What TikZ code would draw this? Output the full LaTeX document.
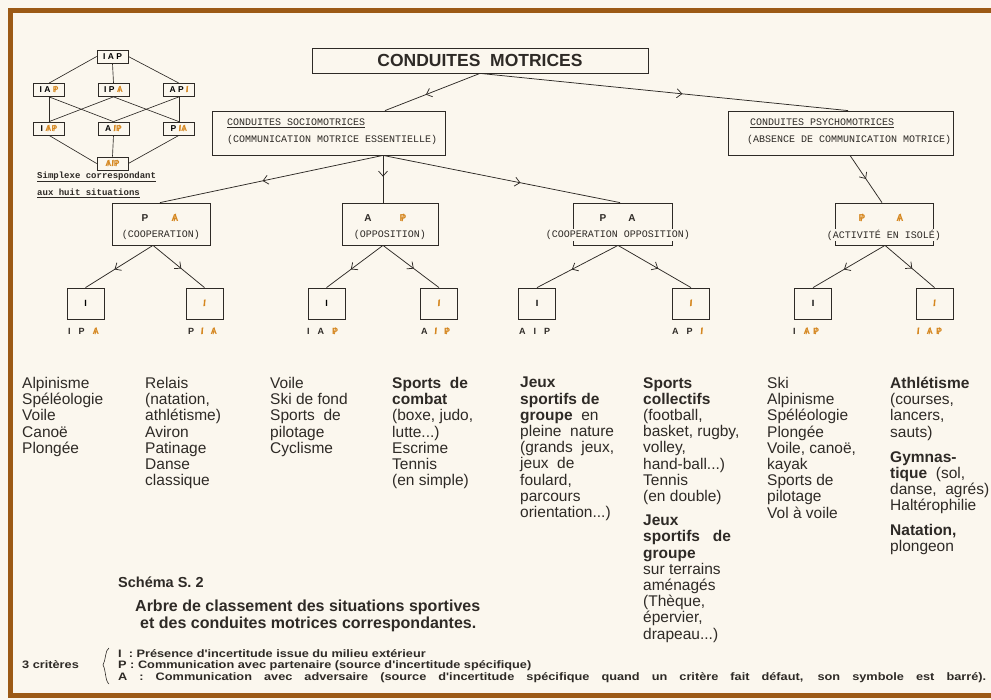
\documentclass[tikz,border=0pt]{standalone}
\usepackage{fontspec}
\setmainfont{Liberation Sans}
\newfontfamily\legf[FakeStretch=1.18]{Liberation Sans}
\newfontfamily\monof{Liberation Mono}
\usetikzlibrary{arrows.meta,decorations.markings,calc}
\definecolor{paper}{HTML}{FBF7EE}
\definecolor{frame}{HTML}{9C5A16}
\definecolor{ink}{HTML}{2E2A26}
\definecolor{orng}{HTML}{D5861E}
\newcommand\xl[1]{{\color{orng}\ooalign{\hfil#1\hfil\cr\hfil/\hfil}}}
\tikzset{
  box/.style={draw=ink,line width=0.8pt,inner sep=0},
  sbox/.style={draw=ink,line width=0.7pt,inner sep=0,minimum width=31pt,minimum height=13pt,font=\bfseries\fontsize{8.5}{9}\selectfont},
  mbox/.style={box,minimum height=42pt},
  lbox/.style={box,minimum width=37pt,minimum height=31pt,font=\bfseries\fontsize{9}{10}\selectfont},
  conn/.style={draw=ink,line width=0.75pt},
  marr/.style={postaction={decorate},decoration={markings,mark=at position #1 with {\arrow{Straight Barb[length=5pt,width=9pt,line width=0.75pt]}}}},
  marr/.default=0.55,
  monotxt/.style={font=\monof\fontsize{10}{12}\selectfont,text=ink,inner sep=0},
  paren/.style={monotxt,fill=paper,inner sep=1pt},
  lett/.style={font=\bfseries\fontsize{10}{12}\selectfont,text=ink,inner sep=0},
  lab/.style={font=\bfseries\fontsize{9}{10}\selectfont,text=ink,inner sep=0,anchor=west},
  coltxt/.style={anchor=north west,align=left,inner sep=0,text=ink,font=\fontsize{15.5}{16.2}\selectfont},
  captxt/.style={anchor=west,inner sep=0,text=ink,font=\bfseries\fontsize{16}{18}\selectfont},
  legtxt/.style={anchor=west,inner sep=0,text=ink,font=\legf\bfseries\fontsize{10.8}{12}\selectfont}
}
\begin{document}
\begin{tikzpicture}[x=1pt,y=-1pt]
\useasboundingbox (0,0) rectangle (991,700);
\fill[paper] (0,0) rectangle (991,700);
\draw[frame,line width=5.5pt] (10.5,10.5) rectangle (1010,695.5);

% simplex
\node[sbox] (s0) at (112.5,56.5) {I A P};
\node[sbox] (s1) at (49,90) {I A \xl{P}};
\node[sbox] (s2) at (113.5,90) {I P \xl{A}};
\node[sbox] (s3) at (179,90) {A P \xl{I}};
\node[sbox] (s4) at (49,128.5) {I \xl{A}\xl{P}};
\node[sbox] (s5) at (113.5,128.5) {A \xl{I}\xl{P}};
\node[sbox] (s6) at (179,128.5) {P \xl{I}\xl{A}};
\node[sbox] (s7) at (112.5,163.5) {\xl{A}\xl{I}\xl{P}};
\begin{scope}[conn,line width=0.65pt]
\draw (s0.west) -- (s1.north);
\draw (s0.south) -- (s2.north);
\draw (s0.east) -- (s3.north);
\draw (s1.south) -- (s4.north);
\draw (s1.south) -- (s5.north);
\draw (s2.south) -- (s4.north);
\draw (s2.south) -- (s6.north);
\draw (s3.south) -- (s5.north);
\draw (s3.south) -- (s6.north);
\draw (s4.south) -- (s7.west);
\draw (s5.south) -- (s7.north);
\draw (s6.south) -- (s7.east);
\end{scope}
\node[anchor=west,inner sep=0,text=ink,font=\monof\bfseries\fontsize{9}{10}\selectfont] (cap1) at (37,177) {\underline{Simplexe correspondant}};
\node[anchor=west,inner sep=0,text=ink,font=\monof\bfseries\fontsize{9}{10}\selectfont] (cap2) at (37,193) {\underline{aux huit situations}};

% top
\node[box,minimum width=336pt,minimum height=25pt,font=\bfseries\fontsize{17.5}{20}\selectfont,text=ink] (title) at (480,60.5) {CONDUITES\ \ MOTRICES};
\node[box,minimum width=233pt,minimum height=44pt] (soc) at (328.5,133) {};
\node[box,minimum width=225pt,minimum height=44pt] (psy) at (840.5,133) {};
\node[monotxt,anchor=west] (soc1) at (227,123) {\underline{CONDUITES SOCIOMOTRICES}};
\node[monotxt,anchor=west] (soc2) at (227,140) {(COMMUNICATION MOTRICE ESSENTIELLE)};
\node[monotxt,anchor=west] (psy1) at (750,123) {\underline{CONDUITES PSYCHOMOTRICES}};
\node[monotxt,anchor=west] (psy2) at (747,140) {(ABSENCE DE COMMUNICATION MOTRICE)};

% middle boxes
\node[mbox,minimum width=98pt] (coop) at (161,224) {};
\node[mbox,minimum width=96pt] (opp) at (390,224) {};
\node[mbox,minimum width=99pt] (cop) at (622.5,224) {};
\node[mbox,minimum width=98pt] (iso) at (884,224) {};
\node[lett] at (145,218) {P};
\node[lett] at (175,218) {\xl{A}};
\node[lett] at (368,218) {A};
\node[lett] at (403,218) {\xl{P}};
\node[lett] at (603,218) {P};
\node[lett] at (632,218) {A};
\node[lett] at (862,218) {\xl{P}};
\node[lett] at (900,218) {\xl{A}};
\node[paren] at (161,235) {(COOPERATION)};
\node[paren] at (390,235) {(OPPOSITION)};
\node[paren] at (618,235) {(COOPERATION OPPOSITION)};
\node[paren] at (884,235) {(ACTIVITÉ EN ISOLÉ)};

% small boxes
\node[lbox] (b1) at (85.5,303.5) {I};
\node[lbox] (b2) at (204.5,303.5) {\xl{I}};
\node[lbox] (b3) at (326.5,303.5) {I};
\node[lbox] (b4) at (439,303.5) {\xl{I}};
\node[lbox] (b5) at (537,303.5) {I};
\node[lbox] (b6) at (691,303.5) {\xl{I}};
\node[lbox] (b7) at (813,303.5) {I};
\node[lbox] (b8) at (934.5,303.5) {\xl{I}};
\node[lab] at (68,331) {I\hspace{8pt}P\hspace{8pt}\xl{A}};
\node[lab] at (188,331) {P\hspace{7pt}\xl{I}\hspace{7pt}\xl{A}};
\node[lab] at (307,331) {I\hspace{8pt}A\hspace{8pt}\xl{P}};
\node[lab] at (421,331) {A\hspace{7pt}\xl{I}\hspace{7pt}\xl{P}};
\node[lab] at (519,331) {A\hspace{8pt}I\hspace{8pt}P};
\node[lab] at (672,331) {A\hspace{8pt}P\hspace{8pt}\xl{I}};
\node[lab] at (793,331) {I\hspace{8pt}\xl{A}\hspace{3pt}\xl{P}};
\node[lab] at (917,331) {\xl{I}\hspace{7pt}\xl{A}\hspace{3pt}\xl{P}};

% connectors
\draw[conn,marr=0.57] (title.south) -- ($(soc.north)+(56.5,0)$);
\draw[conn,marr=0.55] (title.south) -- ($(psy.north)+(7.5,0)$);
\draw[conn,marr=0.54] ($(soc.south)+(54.5,0)$) -- ($(coop.north)+(-1,0)$);
\draw[conn,marr=0.45] ($(soc.south)+(54.5,0)$) -- ($(opp.north)+(-7,0)$);
\draw[conn,marr=0.58] ($(soc.south)+(54.5,0)$) -- ($(cop.north)+(-2.5,0)$);
\draw[conn,marr=0.5] ($(psy.south)+(9.5,0)$) -- ($(iso.north)+(-2,0)$);
\draw[conn,marr=0.57] ($(coop.south)+(-8,0)$) -- (b1.north);
\draw[conn,marr=0.55] ($(coop.south)+(-8,0)$) -- (b2.north);
\draw[conn,marr=0.57] ($(opp.south)+(-7,0)$) -- (b3.north);
\draw[conn,marr=0.55] ($(opp.south)+(-7,0)$) -- (b4.north);
\draw[conn,marr=0.57] ($(cop.south)+(-4.5,0)$) -- (b5.north);
\draw[conn,marr=0.55] ($(cop.south)+(-4.5,0)$) -- (b6.north);
\draw[conn,marr=0.57] ($(iso.south)+(1,0)$) -- (b7.north);
\draw[conn,marr=0.55] ($(iso.south)+(1,0)$) -- (b8.north);

% columns
\node[coltxt] (c1) at (22,377) {Alpinisme\\Spéléologie\\Voile\\Canoë\\Plongée};
\node[coltxt] (c2) at (145,377) {Relais\\(natation,\\athlétisme)\\Aviron\\Patinage\\Danse\\classique};
\node[coltxt] (c3) at (270,377) {Voile\\Ski de fond\\Sports\ \ de\\pilotage\\Cyclisme};
\node[coltxt] (c4) at (392,377) {\textbf{Sports\ \ de}\\\textbf{combat}\\(boxe, judo,\\lutte...)\\Escrime\\Tennis\\(en simple)};
\node[coltxt] (c5) at (520,377) {\textbf{Jeux}\\\textbf{sportifs de}\\\textbf{groupe}\ \ en\\pleine\ \ nature\\(grands\ \ jeux,\\jeux\ \ de\\foulard,\\parcours\\orientation...)};
\node[coltxt] (c6) at (643,377) {\textbf{Sports}\\\textbf{collectifs}\\(football,\\basket, rugby,\\volley,\\hand-ball...)\\Tennis\\(en double)\\[8pt]\textbf{Jeux}\\\textbf{sportifs\ \ \ de}\\\textbf{groupe}\\sur terrains\\aménagés\\(Thèque,\\épervier,\\drapeau...)};
\node[coltxt] (c7) at (767,377) {Ski\\Alpinisme\\Spéléologie\\Plongée\\Voile, canoë,\\kayak\\Sports de\\pilotage\\Vol à voile};
\node[coltxt] (c8) at (890,377) {\textbf{Athlétisme}\\(courses,\\lancers,\\sauts)\\[8.7pt]\textbf{Gymnas-}\\\textbf{tique}\ \ (sol,\\danse,\ \ agrés)\\Haltérophilie\\[8.7pt]\textbf{Natation,}\\plongeon};

% caption
\node[captxt,font=\bfseries\fontsize{14.5}{18}\selectfont] (sch) at (118,582) {Schéma S. 2};
\node[captxt] (arb1) at (135,607) {Arbre de classement des situations sportives};
\node[captxt] (arb2) at (140,624) {et des conduites motrices correspondantes.};

% legend
\node[legtxt] (crit) at (22,665) {3 critères};
\draw[ink,line width=0.6pt] (109,648) .. controls (105,650) and (106,660) .. (103,665) .. controls (106,670) and (105,681) .. (109,684);
\node[legtxt] (lg1) at (118,653.5) {I\ \ : Présence d'incertitude issue du milieu extérieur};
\node[legtxt] (lg2) at (118,665.5) {P : Communication avec partenaire (source d'incertitude spécifique)};
\node[legtxt] (lg3) at (118,677.5) {\makebox[868pt][s]{A : Communication avec adversaire (source d'incertitude spécifique quand un critère fait défaut, son symbole est barré).}};
\end{tikzpicture}
\end{document}
